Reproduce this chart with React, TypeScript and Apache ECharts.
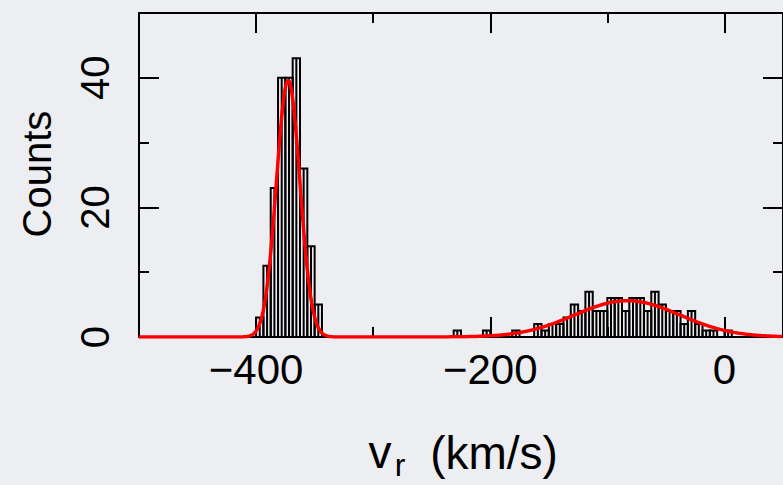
import React, { useEffect, useRef } from "react";
import * as echarts from "echarts";

// Radial-velocity histogram: 6.25 km/s bins starting at -500 km/s.
const BIN_START = -500;
const BIN_WIDTH = 6.25;
// counts per bin, 8 bins per row (bin 0 = [-500, -493.75))
const binCounts = [
  0, 0, 0, 0, 0, 0, 0, 0,
  0, 0, 0, 0, 0, 0, 0, 0,
  3, 11, 23, 40, 40, 43, 26, 14,
  5, 0, 0, 0, 0, 0, 0, 0,
  0, 0, 0, 0, 0, 0, 0, 0,
  0, 0, 0, 1, 0, 0, 0, 1,
  0, 0, 0, 1, 0, 0, 2, 1,
  2, 2, 3, 5, 4, 7, 4, 4,
  6, 6, 4, 6, 6, 4, 7, 5,
  4, 4, 2, 4, 2, 1, 1, 0,
  1, 0, 0, 0, 0, 0, 0, 0,
];

// Two-component Gaussian fit (amplitude in counts per bin, mean, sigma in km/s)
const fitAmplitudes = [39.6, 5.6];
const fitMeans = [-372.6, -83];
const fitSigmas = [10, 45];

const X_MIN = -500;
const X_MAX = 50;
const Y_MIN = 0;
const Y_MAX = 50;
const xMajorTicks = [-400, -200, 0];
const xMinorTicks = [-300, -100];
const yMajorTicks = [20, 40];
const yMinorTicks = [10, 30];
const yTickLabels = [0, 20, 40];

const FONT = "'Liberation Sans', Arial, sans-serif";
const INK = "#000";
const BG = "#edeef2";

function fitCurve(): number[][] {
  const pts: number[][] = [];
  for (let v = X_MIN; v <= X_MAX; v += 0.5) {
    let y = 0;
    for (let i = 0; i < fitAmplitudes.length; i++) {
      const z = (v - fitMeans[i]) / fitSigmas[i];
      y += fitAmplitudes[i] * Math.exp(-0.5 * z * z);
    }
    pts.push([v, y]);
  }
  return pts;
}

function histData(): number[][] {
  const out: number[][] = [];
  binCounts.forEach((c, k) => {
    if (c > 0) {
      const x0 = BIN_START + k * BIN_WIDTH;
      out.push([x0, x0 + BIN_WIDTH, c]);
    }
  });
  return out;
}

function tickAxis(kind: "x" | "y", position: string, values: number[], len: number, withLine: boolean, labels?: number[]) {
  const isX = kind === "x";
  return {
    type: "value",
    position,
    min: isX ? X_MIN : Y_MIN,
    max: isX ? X_MAX : Y_MAX,
    axisLine: { show: withLine, onZero: false, lineStyle: { color: INK, width: 2 } },
    axisTick: { show: true, inside: true, length: len, customValues: values, lineStyle: { color: INK, width: 2 } },
    axisLabel: labels
      ? {
          show: true,
          customValues: labels,
          fontSize: isX ? 42 : 40,
          fontFamily: FONT,
          color: INK,
          margin: isX ? 11 : 24,
          rotate: isX ? 0 : 90,
          formatter: (v: number) => (v < 0 ? "\u2212" + Math.abs(v) : String(v)),
        }
      : { show: false },
    splitLine: { show: false },
  };
}

export default function App() {
  const ref = useRef<HTMLDivElement>(null);

  useEffect(() => {
    if (!ref.current) return;
    const chart = echarts.init(ref.current, null, { renderer: "svg" });
    chart.setOption({
      animation: false,
      backgroundColor: BG,
      grid: { left: 139, top: 13, width: 654, height: 324, containLabel: false },
      xAxis: [
        tickAxis("x", "bottom", xMajorTicks, 20, true, xMajorTicks),
        tickAxis("x", "bottom", xMinorTicks, 10, false),
        tickAxis("x", "top", xMajorTicks, 20, true),
        tickAxis("x", "top", xMinorTicks, 10, false),
      ],
      yAxis: [
        tickAxis("y", "left", yMajorTicks, 20, true, yTickLabels),
        tickAxis("y", "left", yMinorTicks, 10, false),
        tickAxis("y", "right", yMajorTicks, 20, true),
        tickAxis("y", "right", yMinorTicks, 10, false),
      ],
      series: [
        {
          type: "custom",
          xAxisIndex: 0,
          yAxisIndex: 0,
          data: histData(),
          renderItem: (params: any, api: any) => {
            const x0 = api.value(0);
            const x1 = api.value(1);
            const c = api.value(2);
            const p0 = api.coord([x0, 0]);
            const p1 = api.coord([x1, c]);
            const mid = (p0[0] + p1[0]) / 2;
            return {
              type: "group",
              children: [
                {
                  type: "rect",
                  shape: { x: p0[0], y: p1[1], width: p1[0] - p0[0], height: p0[1] - p1[1] },
                  style: { fill: "none", stroke: INK, lineWidth: 2 },
                },
                {
                  type: "line",
                  shape: { x1: mid, y1: p0[1], x2: mid, y2: p1[1] },
                  style: { stroke: INK, lineWidth: 2 },
                },
              ],
            };
          },
          z: 2,
        },
        {
          type: "line",
          xAxisIndex: 0,
          yAxisIndex: 0,
          data: fitCurve(),
          showSymbol: false,
          smooth: false,
          lineStyle: { color: "#ff0000", width: 3.5 },
          z: 5,
        },
      ],
      graphic: [
        {
          type: "text",
          x: 37,
          y: 174,
          rotation: Math.PI / 2,
          style: { text: "Counts", fontSize: 40, fontFamily: FONT, fill: INK, align: "center", verticalAlign: "middle" },
        },
        {
          type: "text",
          x: 380,
          y: 452,
          style: { text: "v", fontSize: 46, fontFamily: FONT, fill: INK, align: "center", verticalAlign: "middle" },
        },
        {
          type: "text",
          x: 400,
          y: 465,
          style: { text: "r", fontSize: 32, fontFamily: FONT, fill: INK, align: "center", verticalAlign: "middle" },
        },
        {
          type: "text",
          x: 494,
          y: 453,
          style: { text: "(km/s)", fontSize: 46, fontFamily: FONT, fill: INK, align: "center", verticalAlign: "middle" },
        },
      ],
    });
    return () => chart.dispose();
  }, []);

  return (
    <div
      ref={ref}
      style={{ position: "fixed", left: 0, top: 0, width: 783, height: 485, background: BG }}
    />
  );
}
